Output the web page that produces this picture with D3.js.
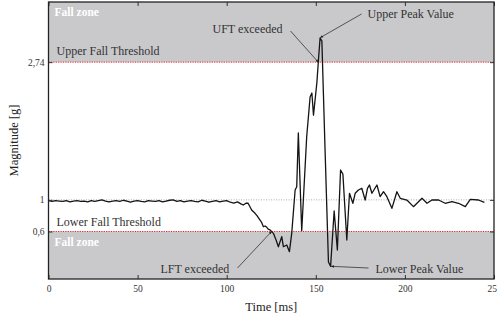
<!DOCTYPE html>
<html>
<head>
<meta charset="utf-8">
<script src="https://cdn.jsdelivr.net/npm/d3@7"></script>
<style>
  body { margin: 0; background: #fff; }
  svg text { font-family: "Liberation Serif", "Times New Roman", Times, serif !important; }
</style>
</head>
<body>
<div id="chart"></div>
<script>
// signal
var time = [0,2,4,6,8,10,12,14,16,18,20,22,24,26,28,30,32,34,36,38,40,42,44,46,48,50,
  52,54,56,58,60,62,64,66,68,70,72,74,76,78,80,82,84,86,88,90,92,94,96,98,100,102,104,
  106,108,109.3,111,112,114,115.9,117,118.7,119.5,120.6,121.5,122.5,123.3,124.3,125.2,126.2,
  127.7,129,130.9,131.8,133.7,135.2,136.5,138.4,139.3,140.2,142.1,144.9,146.8,147.8,148.7,
  150.6,151.5,152.4,153.4,155.2,157.1,158.3,160.3,162.1,163.9,165.2,167.4,168.9,170.8,172.1,
  173.9,175.8,177.7,179,180.1,181.5,184.3,186.1,188,189.9,192.7,195.5,197.4,201.1,204.8,
  209.6,212.4,215.2,218.9,222.6,226.4,230.1,233.9,236.7,241.3,244.6];
var magnitude = [0.99,0.98,0.99,0.985,0.98,0.99,0.975,0.985,0.99,0.98,0.985,0.975,0.99,0.98,
  0.99,1.0,0.985,0.975,0.985,0.99,0.98,0.995,0.985,0.97,0.985,0.99,0.98,0.975,0.99,0.985,0.98,
  0.99,0.975,0.985,0.995,1.0,0.98,0.99,0.975,0.985,0.99,0.98,0.975,0.995,0.985,0.97,0.98,0.99,
  0.975,0.985,0.99,0.97,0.96,
  0.975,0.95,0.935,0.96,0.957,0.872,0.83,0.80,0.745,0.72,0.66,0.67,0.653,0.63,0.62,0.6,0.577,
  0.493,0.408,0.535,0.408,0.43,0.345,0.58,1.125,1.166,1.845,0.61,1.80,2.30,2.35,2.07,
  2.48,2.77,3.045,3.01,1.63,0.215,0.16,0.86,0.366,1.377,1.327,0.493,1.083,0.957,1.083,
  1.125,1.146,0.998,1.146,1.188,1.083,1.188,1.04,1.103,1.04,0.893,1.103,1.02,0.998,0.914,
  1.02,0.957,0.998,0.998,0.957,0.977,0.957,0.914,1.007,0.998,0.967];

var upperThreshold = 2.74, lowerThreshold = 0.6, restLevel = 1;
var xTicks = [0, 50, 100, 150, 200, 250];
var yTicks = [0.6, 1, 2.74];
var yTickLabels = ["0,6", "1", "2,74"];

var serif = "'Liberation Serif', 'Times New Roman', Times, serif";

var margin = { top: 2, left: 48.5, right: 3, bottom: 39 },
    width = 497 - margin.left - margin.right,
    height = 318 - margin.top - margin.bottom;

var svg = d3.select("#chart").append("svg")
  .attr("width", 497).attr("height", 318)
  .attr("font-family", serif)
  .append("g")
  .attr("transform", "translate(" + margin.left + "," + margin.top + ")");

var x = d3.scaleLinear().domain([0, 250]).range([0, width]);
var y = d3.scaleLinear().domain([0, 3.5]).range([height, 0]);

// fall zones
svg.append("rect").attr("x", 0).attr("y", 0)
  .attr("width", width).attr("height", y(upperThreshold))
  .attr("fill", "#c9c9cb");
svg.append("rect").attr("x", 0).attr("y", y(lowerThreshold))
  .attr("width", width).attr("height", height - y(lowerThreshold))
  .attr("fill", "#c9c9cb");

// rest level
svg.append("line").attr("x1", 0).attr("x2", width)
  .attr("y1", y(restLevel)).attr("y2", y(restLevel))
  .attr("stroke", "#9a9a9a").attr("stroke-width", 0.8).attr("stroke-dasharray", "1,1.5");

// thresholds
[upperThreshold, lowerThreshold].forEach(function (t) {
  svg.append("line").attr("x1", 0).attr("x2", width)
    .attr("y1", y(t)).attr("y2", y(t))
    .attr("stroke", "#e0262b").attr("stroke-width", 1).attr("stroke-dasharray", "1.2,1.2");
});

// signal
var line = d3.line().x(function (d) { return x(d[0]); }).y(function (d) { return y(d[1]); });
svg.append("path")
  .datum(time.map(function (t, i) { return [t, magnitude[i]]; }))
  .attr("d", line)
  .attr("fill", "none")
  .attr("stroke", "#141414")
  .attr("stroke-width", 1.3)
  .attr("stroke-linejoin", "round");

// axes
var axisB = d3.axisBottom(x).tickValues(xTicks).tickSize(-4).tickPadding(6);
var axisT = d3.axisTop(x).tickValues(xTicks).tickSize(-4).tickFormat("");
var axisL = d3.axisLeft(y).tickValues(yTicks).tickSize(-4).tickPadding(4)
  .tickFormat(function (d, i) { return yTickLabels[i]; });
var axisR = d3.axisRight(y).tickValues(yTicks).tickSize(-4).tickFormat("");

function styleAxis(g) {
  g.attr("font-family", serif).attr("font-size", 9.5);
  g.select(".domain").remove();
  g.selectAll("line").attr("stroke", "#333").attr("stroke-width", 1);
  g.selectAll("text").attr("fill", "#333");
}
svg.append("g").attr("transform", "translate(0," + height + ")").call(axisB).call(styleAxis);
svg.append("g").call(axisT).call(styleAxis);
svg.append("g").call(axisL).call(styleAxis);
svg.append("g").attr("transform", "translate(" + width + ",0)").call(axisR).call(styleAxis);

// frame
svg.append("rect").attr("width", width).attr("height", height)
  .attr("fill", "none").attr("stroke", "#222").attr("stroke-width", 1.3);

// zone labels
svg.append("text").attr("x", 6).attr("y", 14).text("Fall zone")
  .attr("fill", "#fff").attr("font-weight", "bold").attr("font-size", 11.5);
svg.append("text").attr("x", 6).attr("y", y(lowerThreshold) + 14).text("Fall zone")
  .attr("fill", "#fff").attr("font-weight", "bold").attr("font-size", 11.5);
svg.append("text").attr("x", 8).attr("y", y(upperThreshold) - 7).text("Upper Fall Threshold")
  .attr("fill", "#333").attr("font-size", 12);
svg.append("text").attr("x", 8).attr("y", y(lowerThreshold) - 6).text("Lower Fall Threshold")
  .attr("fill", "#333").attr("font-size", 12);

// annotations
svg.append("defs").append("marker")
  .attr("id", "tip").attr("viewBox", "0 0 10 10").attr("refX", 9).attr("refY", 5)
  .attr("markerWidth", 4).attr("markerHeight", 4).attr("orient", "auto")
  .append("path").attr("d", "M0,1L10,5L0,9z").attr("fill", "#222");

var notes = [
  { label: "UFT exceeded", tx: 164, ty: 31, lx: 242, ly: 29, t: 151.4, v: upperThreshold },
  { label: "Upper Peak Value", tx: 319, ty: 16, lx: 313, ly: 12, t: 152.5, v: 3.05 },
  { label: "LFT exceeded", tx: 112, ty: 271, lx: 189, ly: 266, t: 125.2, v: lowerThreshold },
  { label: "Lower Peak Value", tx: 327, ty: 271, lx: 320, ly: 266, t: 158.6, v: 0.16 }
];
notes.forEach(function (n) {
  svg.append("text").attr("x", n.tx).attr("y", n.ty)
    .text(n.label).attr("fill", "#333").attr("font-size", 12);
  svg.append("line").attr("x1", n.lx).attr("y1", n.ly)
    .attr("x2", x(n.t)).attr("y2", y(n.v))
    .attr("stroke", "#333").attr("stroke-width", 0.8).attr("marker-end", "url(#tip)");
});

// axis titles
svg.append("text").attr("x", width / 2).attr("y", height + 32).attr("text-anchor", "middle")
  .text("Time [ms]").attr("fill", "#222").attr("font-size", 12.5);
svg.append("text").attr("transform", "translate(-31," + (height / 2) + ") rotate(-90)")
  .attr("text-anchor", "middle").text("Magnitude [g]").attr("fill", "#222").attr("font-size", 12.5);
</script>
</body>
</html>
